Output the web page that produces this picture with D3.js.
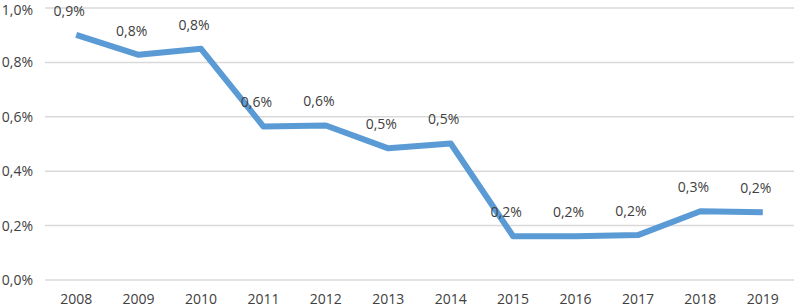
<!DOCTYPE html>
<html lang="en">
<head>
    <meta charset="UTF-8">
    <title>Line Chart</title>
    <script src="https://d3js.org/d3.v7.min.js"></script>
    <style>
        body { margin: 0; background: #fff; }
        svg { display: block; font-family: "Open Sans", "Noto Sans", sans-serif; }
    </style>
</head>
<body>
<svg width="800" height="308"></svg>
<script>
    const years = ["2008", "2009", "2010", "2011", "2012", "2013", "2014", "2015", "2016", "2017", "2018", "2019"];
    const values = [0.901, 0.828, 0.850, 0.564, 0.568, 0.484, 0.502, 0.161, 0.161, 0.165, 0.253, 0.249];
    const yTicks = [0, 0.2, 0.4, 0.6, 0.8, 1.0];

    const svg = d3.select("svg");
    const margin = {top: 8, right: 6, bottom: 28, left: 45};
    const width = 800, height = 308;

    const x = d3.scaleBand().domain(years).range([margin.left, width - margin.right]);
    const y = d3.scaleLinear().domain([0, 1]).range([height - margin.bottom, margin.top]);

    const fmt = v => d3.format(".1f")(v).replace(".", ",") + "%";

    // gridlines
    svg.append("g")
        .selectAll("line")
        .data(yTicks)
        .join("line")
        .attr("x1", margin.left)
        .attr("x2", width - margin.right)
        .attr("y1", d => y(d))
        .attr("y2", d => y(d))
        .attr("stroke", "#d9d9d9")
        .attr("stroke-width", 1.5);

    // keep the top label inside the picture
    svg.append("g")
        .selectAll("text")
        .data(yTicks)
        .join("text")
        .attr("x", 33)
        .attr("y", d => Math.max(y(d), 10))
        .attr("dy", "0.35em")
        .attr("text-anchor", "end")
        .attr("fill", "#404040")
        .style("font-size", "14px")
        .text(fmt);

    svg.append("g")
        .selectAll("text")
        .data(years)
        .join("text")
        .attr("x", d => x(d) + x.bandwidth() / 2)
        .attr("y", height - 9)
        .attr("dy", "0.35em")
        .attr("text-anchor", "middle")
        .attr("fill", "#404040")
        .style("font-size", "14px")
        .text(d => d);

    const line = d3.line()
        .x((d, i) => x(years[i]) + x.bandwidth() / 2)
        .y(d => y(d));

    svg.append("path")
        .datum(values)
        .attr("fill", "none")
        .attr("stroke", "#5b9bd5")
        .attr("stroke-width", 6)
        .attr("stroke-linejoin", "round")
        .attr("d", line);

    svg.append("g")
        .selectAll("text")
        .data(values)
        .join("text")
        .attr("x", (d, i) => x(years[i]) + x.bandwidth() / 2 - 7)
        .attr("y", d => y(d) - 24)
        .attr("dy", "0.35em")
        .attr("text-anchor", "middle")
        .attr("fill", "#404040")
        .style("font-size", "14px")
        .text(fmt);
</script>
</body>
</html>
